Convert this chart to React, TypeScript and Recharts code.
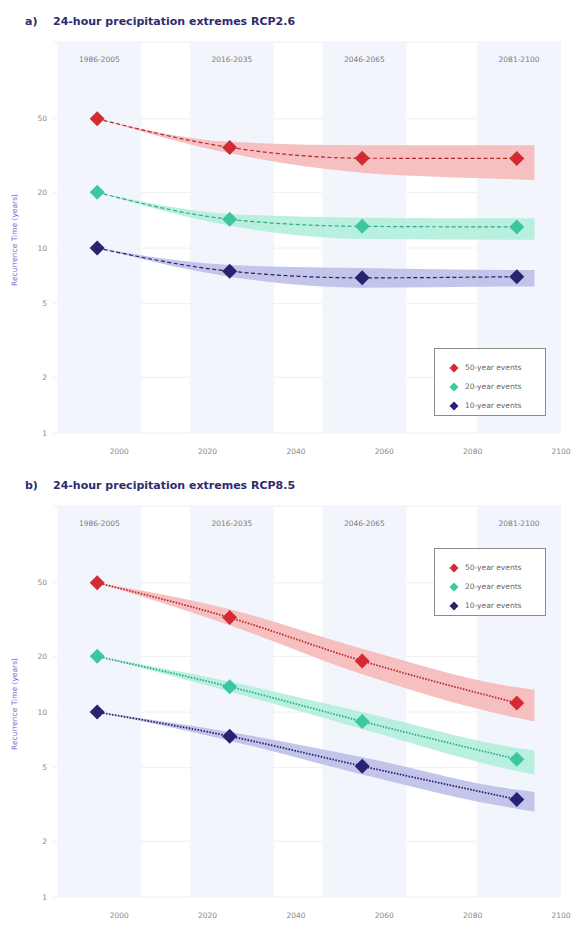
import React from 'react';
import {
  ComposedChart,
  Area,
  Line,
  XAxis,
  YAxis,
  CartesianGrid,
  ReferenceArea,
} from 'recharts';

// years of the central estimates (last entry only carries the shaded band)
const years = [1995, 2025, 2055, 2090, 2094];

const periods = ['1986-2005', '2016-2035', '2046-2065', '2081-2100'];
const periodStart = [1986, 2016, 2046, 2081];
const periodEnd = [2005, 2035, 2065, 2100];

const xTicks = [2000, 2020, 2040, 2060, 2080, 2100];
const yTicks = [1, 2, 5, 10, 20, 50];

// RCP2.6
const mid50a = [50, 35, 30.6, 30.5, null];
const lo50a = [50, 32.5, 25.5, 23.5, 23.3];
const hi50a = [50, 37.5, 36, 36, 36];
const mid20a = [20, 14.3, 13.1, 13.0, null];
const lo20a = [20, 13.2, 11.2, 11.1, 11.1];
const hi20a = [20, 15.3, 14.6, 14.5, 14.5];
const mid10a = [10, 7.5, 6.9, 7.0, null];
const lo10a = [10, 7.0, 6.1, 6.2, 6.2];
const hi10a = [10, 8.1, 7.8, 7.6, 7.6];

// RCP8.5
const mid50b = [50, 32.4, 18.9, 11.2, null];
const lo50b = [50, 29.5, 16, 9.3, 8.9];
const hi50b = [50, 36, 22, 13.6, 13.2];
const mid20b = [20, 13.7, 8.9, 5.55, null];
const lo20b = [20, 12.9, 8.1, 4.8, 4.6];
const hi20b = [20, 14.6, 10, 6.4, 6.2];
const mid10b = [10, 7.4, 5.1, 3.37, null];
const lo10b = [10, 7.0, 4.6, 3.0, 2.9];
const hi10b = [10, 7.8, 5.7, 3.8, 3.7];

const events = ['50-year events', '20-year events', '10-year events'];
const markColors = ['#d32a33', '#3cc79f', '#26246e'];
const lineColors = ['#b8262d', '#2faa86', '#24226a'];
const bandColors = ['#f6b9b9', '#b2eedc', '#bdbfe8'];

const FONT = '"DejaVu Sans", sans-serif';

function buildRows(mids: any[], los: any[], his: any[]) {
  return years.map((yr, i) => ({
    year: yr,
    m50: mids[0][i],
    m20: mids[1][i],
    m10: mids[2][i],
    b50: [los[0][i], his[0][i]],
    b20: [los[1][i], his[1][i]],
    b10: [los[2][i], his[2][i]],
  }));
}

const rowsA = buildRows([mid50a, mid20a, mid10a], [lo50a, lo20a, lo10a], [hi50a, hi20a, hi10a]);
const rowsB = buildRows([mid50b, mid20b, mid10b], [lo50b, lo20b, lo10b], [hi50b, hi20b, hi10b]);

const diamond = (color: string, r: number) => (props: any) => {
  const { cx, cy, index } = props;
  if (cx == null || cy == null || props.value == null) return <g key={`d-${index}`} />;
  return (
    <polygon
      key={`d-${index}`}
      points={`${cx},${cy - r} ${cx + r},${cy} ${cx},${cy + r} ${cx - r},${cy}`}
      fill={color}
    />
  );
};

function LegendBox({ top }: { top: number }) {
  return (
    <div
      style={{
        position: 'absolute',
        left: 434,
        top,
        width: 112,
        height: 68,
        border: '1px solid #8a8a8a',
        background: '#fff',
        fontFamily: FONT,
        fontSize: 7.5,
        color: '#666',
        boxSizing: 'border-box',
        paddingTop: 9,
      }}
    >
      {events.map((ev, i) => (
        <div key={ev} style={{ height: 19, display: 'flex', alignItems: 'center', paddingLeft: 14 }}>
          <svg width={10} height={10} style={{ marginRight: 6 }}>
            <polygon points="5,0.5 9.5,5 5,9.5 0.5,5" fill={markColors[i]} />
          </svg>
          {ev}
        </div>
      ))}
    </div>
  );
}

function Panel({ rows, tag, title, dash, legendTop, top }: any) {
  const dashed = dash === 'dash';
  return (
    <div style={{ position: 'absolute', left: 0, top, width: 577, height: 464 }}>
      <div
        style={{
          position: 'absolute',
          left: 25,
          top: 15,
          fontFamily: FONT,
          fontWeight: 'bold',
          fontSize: 11,
          color: '#2e2b6b',
          whiteSpace: 'nowrap',
        }}
      >
        <span style={{ display: 'inline-block', width: 28 }}>{tag}</span>
        {title}
      </div>
      <ComposedChart
        width={577}
        height={464}
        data={rows}
        margin={{ top: 42, right: 16, bottom: 1, left: 0 }}
      >
        <CartesianGrid vertical={false} stroke="#efefef" />
        {periods.map((p, i) => (
          <ReferenceArea
            key={p}
            x1={periodStart[i]}
            x2={periodEnd[i]}
            fill="#f3f5fd"
            fillOpacity={1}
            stroke="none"
            ifOverflow="hidden"
            label={{
              value: p,
              position: 'insideTop',
              offset: 15,
              fill: '#7a7a7a',
              fontSize: 7.5,
              fontFamily: FONT,
            }}
          />
        ))}
        <XAxis
          dataKey="year"
          type="number"
          domain={[1985, 2100]}
          ticks={xTicks}
          axisLine={false}
          tickLine={false}
          tickSize={0}
          tickMargin={16}
          height={30}
          tick={{ fontSize: 7.5, fill: '#888', fontFamily: FONT }}
        />
        <YAxis
          scale="log"
          domain={[1, 130]}
          ticks={yTicks}
          allowDataOverflow
          axisLine={false}
          tickLine={false}
          tickSize={0}
          tickMargin={6}
          width={53}
          tick={{ fontSize: 7.5, fill: '#888', fontFamily: FONT }}
          label={{
            content: () => (
              <text
                x={15}
                y={240}
                transform="rotate(-90 15 240)"
                textAnchor="middle"
                dominantBaseline="middle"
                fontSize={7.5}
                fontFamily={FONT}
                fill="#6f6fd0"
              >
                Recurrence Time (years)
              </text>
            ),
          }}
        />
        {['b50', 'b20', 'b10'].map((k, i) => (
          <Area
            key={k}
            dataKey={k}
            type="monotone"
            stroke="none"
            fill={bandColors[i]}
            fillOpacity={0.9}
            isAnimationActive={false}
            activeDot={false}
          />
        ))}
        {['m50', 'm20', 'm10'].map((k, i) => (
          <Line
            key={k}
            dataKey={k}
            type="monotone"
            stroke={lineColors[i]}
            strokeWidth={dashed ? 1.2 : 1.8}
            strokeDasharray={dashed ? '4 2.5' : '1.5 1.5'}
            dot={diamond(markColors[i], 7.5)}
            activeDot={false}
            isAnimationActive={false}
          />
        ))}
      </ComposedChart>
      <LegendBox top={legendTop} />
    </div>
  );
}

export default function App() {
  return (
    <div style={{ position: 'absolute', left: 0, top: 0, width: 577, height: 930, background: '#fff' }}>
      <Panel rows={rowsA} tag="a)" title="24-hour precipitation extremes RCP2.6" dash="dash" legendTop={348} top={0} />
      <Panel rows={rowsB} tag="b)" title="24-hour precipitation extremes RCP8.5" dash="dot" legendTop={84} top={464} />
    </div>
  );
}
